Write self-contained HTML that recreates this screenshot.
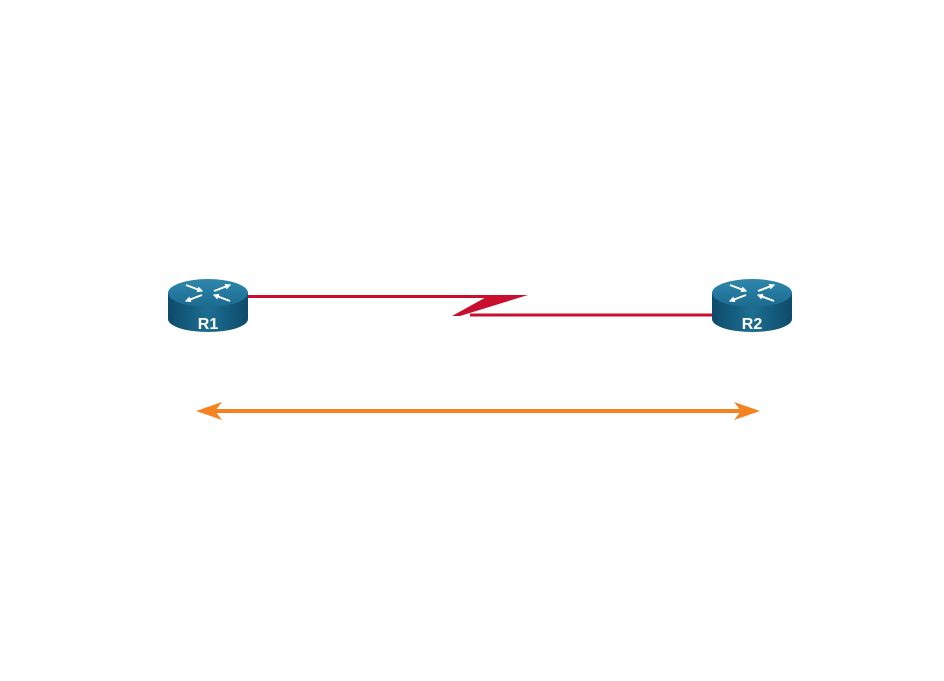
<!DOCTYPE html>
<html><head><style>body{margin:0;background:#fff}svg{display:block}</style></head><body>
<svg width="944" height="681" viewBox="0 0 944 681" xmlns="http://www.w3.org/2000/svg">
<defs>
<linearGradient id="side" x1="0" x2="1" y1="0" y2="0">
<stop offset="0" stop-color="#0e4a6a"/><stop offset="0.5" stop-color="#1d6e92"/><stop offset="1" stop-color="#0e4a6a"/>
</linearGradient>
<linearGradient id="top" x1="0" x2="0" y1="0" y2="1">
<stop offset="0" stop-color="#2f86ab"/><stop offset="1" stop-color="#1b6b90"/>
</linearGradient>
<marker id="ah" viewBox="0 0 10 10" refX="8" refY="5" markerWidth="3" markerHeight="3" orient="auto">
<path d="M0 0 L10 5 L0 10 Z" fill="#fff"/>
</marker>
<g id="router">
<path d="M0 15 L0 41 A40 13 0 0 0 80 41 L80 15 Z" fill="url(#side)"/>
<ellipse cx="40" cy="15" rx="40" ry="14" fill="url(#top)"/>
<g stroke="#fff" stroke-width="2" marker-end="url(#ah)">
<line x1="18" y1="7" x2="34" y2="13"/>
<line x1="62" y1="23" x2="46" y2="17"/>
<line x1="46" y1="13" x2="62" y2="7"/>
<line x1="34" y1="17" x2="18" y2="23"/>
</g>
</g>
</defs>
<line x1="248" y1="296.5" x2="500" y2="296.5" stroke="#c8102e" stroke-width="3"/>
<polygon points="490,295 528,295 460,316 452,316" fill="#c8102e"/>
<line x1="470" y1="315" x2="712" y2="315" stroke="#c8102e" stroke-width="3"/>
<use href="#router" x="168" y="278"/>
<use href="#router" x="712" y="278"/>
<text x="208" y="329" font-family="Liberation Sans, sans-serif" font-weight="bold" font-size="16" fill="#fff" text-anchor="middle">R1</text>
<text x="752" y="329" font-family="Liberation Sans, sans-serif" font-weight="bold" font-size="16" fill="#fff" text-anchor="middle">R2</text>
<line x1="205" y1="411" x2="750" y2="411" stroke="#f58220" stroke-width="4"/>
<polygon points="196,411 222,402 215,411 222,420" fill="#f58220"/>
<polygon points="760,411 734,402 741,411 734,420" fill="#f58220"/>
</svg>
</body></html>
